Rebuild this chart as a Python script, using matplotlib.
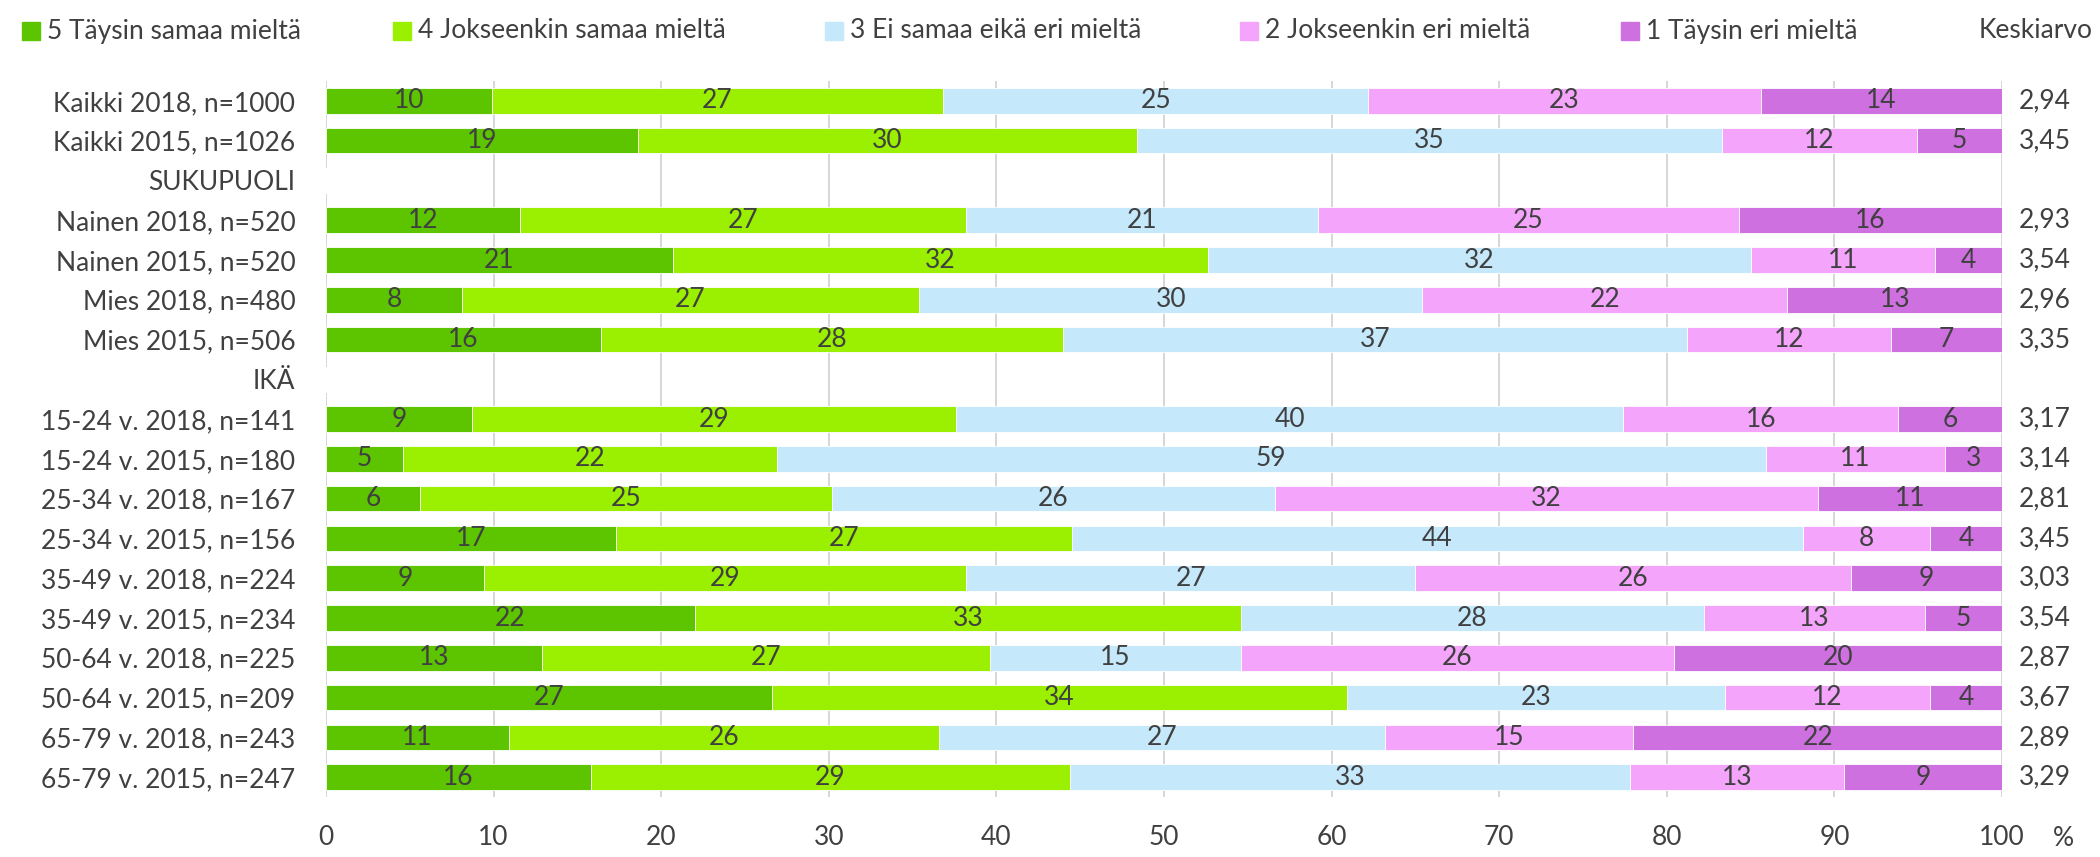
import numpy as np
import matplotlib
matplotlib.use("Agg")
import matplotlib.pyplot as plt
from matplotlib.patches import Rectangle
import matplotlib.transforms as mtransforms

plt.rcParams['font.family'] = ['Lato', 'DejaVu Sans']

row_labels = ["Kaikki 2018, n=1000", "Kaikki 2015, n=1026", "SUKUPUOLI",
              "Nainen 2018, n=520", "Nainen 2015, n=520", "Mies 2018, n=480",
              "Mies 2015, n=506", "IKÄ", "15-24 v. 2018, n=141",
              "15-24 v. 2015, n=180", "25-34 v. 2018, n=167", "25-34 v. 2015, n=156",
              "35-49 v. 2018, n=224", "35-49 v. 2015, n=234", "50-64 v. 2018, n=225",
              "50-64 v. 2015, n=209", "65-79 v. 2018, n=243", "65-79 v. 2015, n=247"]

series_names = ["5 Täysin samaa mieltä", "4 Jokseenkin samaa mieltä",
                "3 Ei samaa eikä eri mieltä", "2 Jokseenkin eri mieltä",
                "1 Täysin eri mieltä"]

nan = np.nan
s5 = [9.9, 18.6, nan, 11.6, 20.7, 8.1, 16.4, nan, 8.7, 4.6, 5.6, 17.3, 9.4, 22.0, 12.9, 26.6, 10.9, 15.8]
s4 = [26.9, 29.8, nan, 26.6, 31.9, 27.3, 27.6, nan, 28.9, 22.3, 24.6, 27.2, 28.8, 32.6, 26.7, 34.3, 25.7, 28.6]
s3 = [25.4, 34.9, nan, 21.0, 32.4, 30.0, 37.2, nan, 39.8, 59.0, 26.4, 43.6, 26.8, 27.6, 15.0, 22.6, 26.6, 33.4]
s2 = [23.4, 11.6, nan, 25.1, 11.0, 21.8, 12.2, nan, 16.4, 10.7, 32.4, 7.6, 26.0, 13.2, 25.8, 12.2, 14.8, 12.8]
s1 = [14.4, 5.1, nan, 15.7, 4.0, 12.8, 6.6, nan, 6.2, 3.4, 11.0, 4.3, 9.0, 4.6, 19.6, 4.3, 22.0, 9.4]

means = ["2,94", "3,45", "", "2,93", "3,54", "2,96", "3,35", "", "3,17", "3,14",
         "2,81", "3,45", "3,03", "3,54", "2,87", "3,67", "2,89", "3,29"]

x_ticks = [0, 10, 20, 30, 40, 50, 60, 70, 80, 90, 100]

colors = ["#5DC400", "#9AF000", "#C5E8FB", "#F4A5FB", "#CF70E0"]
txt = "#404040"
fs = 19

fig = plt.figure(figsize=(21, 8.57), dpi=100)
ax = fig.add_axes([326/2100, 1-797/857, (2002-326)/2100, (797-81)/857])

y = np.arange(len(row_labels))
left = np.zeros(len(row_labels))
for vals, col in zip([s5, s4, s3, s2, s1], colors):
    v = np.array(vals, dtype=float)
    vz = np.nan_to_num(v)
    ax.barh(y, vz, left=left, height=0.64, color=col, edgecolor='white',
            linewidth=0.6, zorder=2)
    for yi, (l, w) in enumerate(zip(left, v)):
        if not np.isnan(w):
            ax.text(l + w/2, yi, f"{w:.0f}", ha='center', va='center',
                    fontsize=fs, color=txt, zorder=3)
    left = left + vz

ax.set_xlim(0, 100)
ax.set_ylim(len(row_labels) - 0.5, -0.5)
ax.set_yticks(y)
ax.set_yticklabels(row_labels)
ax.set_xticks(x_ticks)
ax.tick_params(axis='both', length=0, labelsize=fs, labelcolor=txt)
ax.tick_params(axis='y', pad=22)
ax.tick_params(axis='x', pad=20)
ax.grid(axis='x', color='#D0D0D0', linewidth=1.2, zorder=0)
ax.set_axisbelow(True)
for sp in ax.spines.values():
    sp.set_visible(False)

trans = mtransforms.blended_transform_factory(fig.transFigure, ax.transData)
for yi, m in enumerate(means):
    if m:
        ax.text(2019/2100, yi, m, transform=trans, ha='left', va='center',
                fontsize=fs, color=txt)

# percent sign next to x axis labels
ax.text(2063/2100, 1-838/857, "%", transform=fig.transFigure, ha='center',
        va='center', fontsize=fs, color=txt)

# legend
leg_x = [22, 393, 825, 1240, 1621]
ly = 31
for xm, name, col in zip(leg_x, series_names, colors):
    fig.patches.append(Rectangle((xm/2100, 1-(ly+9)/857), 18/2100, 18/857,
                                 transform=fig.transFigure, color=col))
    fig.text((xm+25)/2100, 1-ly/857, name, ha='left', va='center',
             fontsize=fs, color=txt)
fig.text(2093/2100, 1-ly/857, "Keskiarvo", ha='right', va='center',
         fontsize=fs, color=txt)

fig.savefig("out.png", dpi=100, facecolor='white')
